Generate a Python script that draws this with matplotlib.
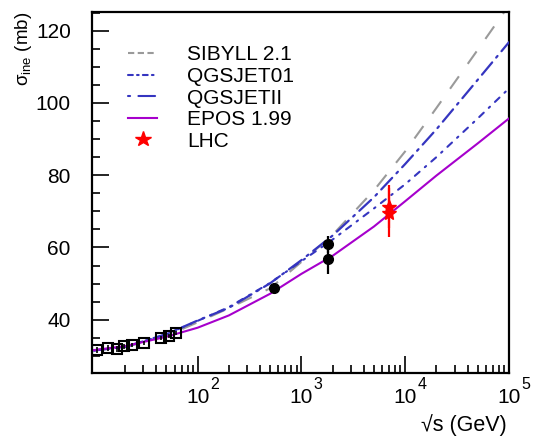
import numpy as np
import matplotlib
matplotlib.use("Agg")
import matplotlib.pyplot as plt
from matplotlib.lines import Line2D
from matplotlib.legend_handler import HandlerLine2D
from matplotlib.ticker import FixedLocator, LogLocator, NullFormatter, MultipleLocator

plt.rcParams['font.family'] = ['Liberation Sans', 'DejaVu Sans']
plt.rcParams['mathtext.fontset'] = 'custom'
plt.rcParams['mathtext.rm'] = 'Liberation Sans'
plt.rcParams['mathtext.it'] = 'Liberation Sans:italic'
plt.rcParams['lines.scale_dashes'] = False

# ---------------- data ----------------
energy = [10, 20, 50, 100, 200, 500, 1000, 2000, 5000, 10000, 20000, 50000, 100000]
sibyll = [31.5, 32.4, 35.5, 39.3, 43.2, 48.7, 56.0, 63.5, 75.8, 86.6, 98.6, 114.7, 127.0]
qgsjetii = [31.5, 32.5, 36.0, 39.8, 43.3, 50.1, 56.5, 63.3, 73.9, 83.1, 92.7, 106.4, 116.8]
qgsjet01 = [31.5, 32.5, 36.0, 39.7, 43.5, 50.2, 56.2, 62.2, 70.8, 77.5, 85.0, 95.7, 104.0]
epos = [31.6, 32.7, 35.3, 37.8, 41.2, 47.2, 52.7, 57.7, 65.8, 72.8, 79.9, 88.8, 95.7]

sq_e = [10.7, 13.8, 16.6, 19.4, 23.5, 30.6, 44.7, 52.8, 62.5]
sq_s = [31.6, 32.1, 31.9, 32.6, 33.0, 33.5, 34.9, 35.5, 36.3]
sq_err = [0.8, 0.8, 0.8, 0.6, 0.5, 0.5, 0.5, 0.5, 0.6]

col_e = [546, 1800, 1800]
col_s = [48.8, 60.9, 56.7]
col_err = [1.0, 2.4, 4.0]

lhc_e = [7000, 7000]
lhc_s = [71.3, 69.6]
lhc_err = [6.0, 6.8]

xticks_major = [100, 1000, 10000, 100000]
xtick_base = "10"
xtick_exp = ["2", "3", "4", "5"]
yticks_major = [40, 60, 80, 100, 120]

# ---------------- figure ----------------
W, H = 533, 437
fig = plt.figure(figsize=(W / 100, H / 100), dpi=100)
L, R, T, B = 92.3, 509, 11.8, 372.7
ax = fig.add_axes([L / W, 1 - B / H, (R - L) / W, (B - T) / H])

blue = '#3535c0'
purple = '#a600cc'
grey = '#9a9a9a'

ax.plot(energy, sibyll, color=grey, lw=1.5, dashes=(11, 11), zorder=2)
ax.plot(energy, qgsjetii, color=blue, lw=1.6, dashes=(11.5, 4.5, 1.5, 4.5),
        dash_capstyle='round', zorder=3)
ax.plot(energy, qgsjet01, color=blue, lw=1.5, dashes=(4.5, 5, 1.2, 5),
        dash_capstyle='round', zorder=3)
ax.plot(energy, epos, color=purple, lw=1.5, zorder=3)

ax.errorbar(sq_e, sq_s, yerr=sq_err, fmt='s', ms=7.5, mfc='none', mec='black',
            mew=1.5, ecolor='black', elinewidth=1.2, capsize=0, zorder=4)
ax.errorbar(col_e, col_s, yerr=col_err, fmt='o', ms=7, color='black',
            ecolor='black', elinewidth=1.6, capsize=0, zorder=4)
ax.errorbar(lhc_e, lhc_s, yerr=lhc_err, fmt='*', ms=10.5, color='red',
            ecolor='red', elinewidth=1.6, capsize=0, zorder=5)

ax.set_xscale('log')
ax.set_xlim(9.66, 100000)
ax.set_ylim(25.35, 125.2)

# ticks
ax.xaxis.set_major_locator(FixedLocator(xticks_major))
ax.xaxis.set_minor_locator(LogLocator(base=10, subs=np.arange(2, 10)))
ax.xaxis.set_major_formatter(NullFormatter())
ax.xaxis.set_minor_formatter(NullFormatter())
ax.yaxis.set_major_locator(FixedLocator(yticks_major))
ax.yaxis.set_minor_locator(MultipleLocator(5))
ax.tick_params(which='both', direction='in', top=False, right=False, width=1.2)
ax.tick_params(which='major', length=12, labelsize=15)
ax.tick_params(which='minor', length=6)
ax.tick_params(axis='y', which='major', pad=15.5)
for sp in ax.spines.values():
    sp.set_linewidth(1.6)

# ROOT-style x tick labels
for xv, ex in zip(xticks_major, xtick_exp):
    ax.annotate(xtick_base, xy=(xv, 0), xycoords=('data', 'axes fraction'),
                xytext=(0, -22), textcoords='offset points', ha='center',
                va='baseline', fontsize=15)
    ax.annotate(ex, xy=(xv, 0), xycoords=('data', 'axes fraction'),
                xytext=(9, -11.6), textcoords='offset points', ha='left',
                va='baseline', fontsize=11.5)

ax.text(0.995, -0.161, '√s (GeV)', transform=ax.transAxes, ha='right',
        va='baseline', fontsize=15.5)
ax.text(-0.164, 1.0, r'$\mathrm{σ_{ine}}$ (mb)', transform=ax.transAxes,
        ha='center', va='top', rotation=90, fontsize=13.5)


class StarEnd(HandlerLine2D):
    def get_xdata(self, legend, xdescent, ydescent, width, height, fontsize):
        xdata = np.array([-xdescent, -xdescent + width])
        return xdata, np.array([-xdescent + width])


handles = [
    Line2D([], [], color=grey, lw=1.5, dashes=(4.5, 2.5)),
    Line2D([], [], color=blue, lw=1.5, dashes=(3.5, 3, 1.2, 3), dash_capstyle='round'),
    Line2D([], [], color=blue, lw=1.5, dashes=(1.5, 6, 12, 3), dash_capstyle='round'),
    Line2D([], [], color=purple, lw=1.5),
    Line2D([], [], color='red', marker='*', ls='none', ms=11.5),
]
labels = ['SIBYLL 2.1', 'QGSJET01', 'QGSJETII', 'EPOS 1.99', 'LHC']
leg = ax.legend(handles, labels, loc='upper left', bbox_to_anchor=(0.0857, 0.907),
                frameon=False, fontsize=15, handlelength=1.4, handletextpad=1.44,
                labelspacing=0.125, borderpad=0, borderaxespad=0,
                handler_map={handles[4]: StarEnd(numpoints=1)})

fig.savefig('out.png', dpi=100)
